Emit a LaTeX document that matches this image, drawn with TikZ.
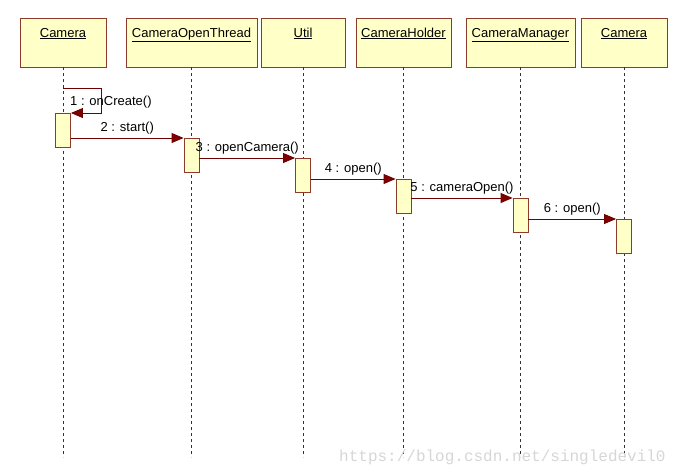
\documentclass[tikz,border=0pt]{standalone}
\usepackage{fontspec}
\setmainfont{Liberation Sans}
\newfontfamily\markfont{Liberation Mono}
\usetikzlibrary{arrows.meta,positioning}
\definecolor{headfill}{HTML}{FFFFC8}
\definecolor{headdraw}{HTML}{8E3B2C}
\definecolor{msgred}{HTML}{800000}
\definecolor{markgray}{HTML}{D6D6D6}

\begin{document}
\begin{tikzpicture}[x=1pt, y=-1pt, font=\fontsize{13}{15}\selectfont, line cap=butt]
    \useasboundingbox (0,0) rectangle (689,474);

    \tikzset{
        lifehead/.style={draw=headdraw, fill=headfill, line width=0.9pt, inner sep=0pt, minimum height=49pt},
        headLabel/.style={anchor=base, inner sep=0pt},
        lifeline/.style={draw=black!80, line width=0.9pt, dash pattern=on 3pt off 3pt},
        actbar/.style={draw=headdraw, fill=headfill, line width=0.9pt, anchor=north, inner sep=0pt, minimum width=15pt, minimum height=34pt},
        msg/.style={draw=msgred!85!black, line width=0.9pt, -{Triangle[length=12pt,width=10pt,fill=msgred]}},
        msgLabel/.style={midway, above=3pt, inner sep=0pt}
    }

    \newcommand{\drawhead}[4]{%
        \node[lifehead, minimum width={(#3-#2)*1pt}] (#1) at ({(#2+#3)/2},42.5) {};
        \node[headLabel] (#1L) at (#1.center |- 0,37) {\underline{#4}};
        \draw[lifeline] (#1.south) -- ++(0,390);
    }

    % Lifeline heads
    \drawhead{H1}{20}{106}{Camera}
    \drawhead{H2}{126}{257}{CameraOpenThread}
    \drawhead{H3}{261}{345}{Util}
    \drawhead{H4}{356}{451}{CameraHolder}
    \drawhead{H5}{466}{575}{CameraManager}
    \drawhead{H6}{581}{667}{Camera}

    % Activation bars
    \node[actbar] (B1) at (H1.south |- 0,113) {};
    \node[actbar] (B2) at (H2.south |- 0,138) {};
    \node[actbar] (B3) at (H3.south |- 0,158) {};
    \node[actbar] (B4) at (H4.south |- 0,179) {};
    \node[actbar] (B5) at (H5.south |- 0,198) {};
    \node[actbar] (B6) at (H6.south |- 0,219) {};

    % Self message
    \coordinate (S1) at (H1.south |- 0,88);
    \draw[msg] (S1) -- ++(38,0) |- (B1.north east);
    \node[anchor=base west, inner sep=0pt] (M1) at (70,105) {1 : onCreate()};

    % Messages
    \draw[msg] (B1.east |- B2.north) -- (B2.north west) node[msgLabel] (M2) {2 : start()};
    \draw[msg] (B2.east |- B3.north) -- (B3.north west) node[msgLabel] (M3) {3 : openCamera()};
    \draw[msg] (B3.east |- B4.north) -- (B4.north west) node[msgLabel] (M4) {4 : open()};
    \draw[msg] (B4.east |- B5.north) -- (B5.north west) node[msgLabel] (M5) {5 : cameraOpen()};
    \draw[msg] (B5.east |- B6.north) -- (B6.north west) node[msgLabel] (M6) {6 : open()};

    % Watermark
    \node[anchor=base west, inner sep=0pt, text=markgray, font=\markfont\fontsize{16}{18}\selectfont] (WM) at (339,461) {https://blog.csdn.net/singledevil0};
\end{tikzpicture}
\end{document}
